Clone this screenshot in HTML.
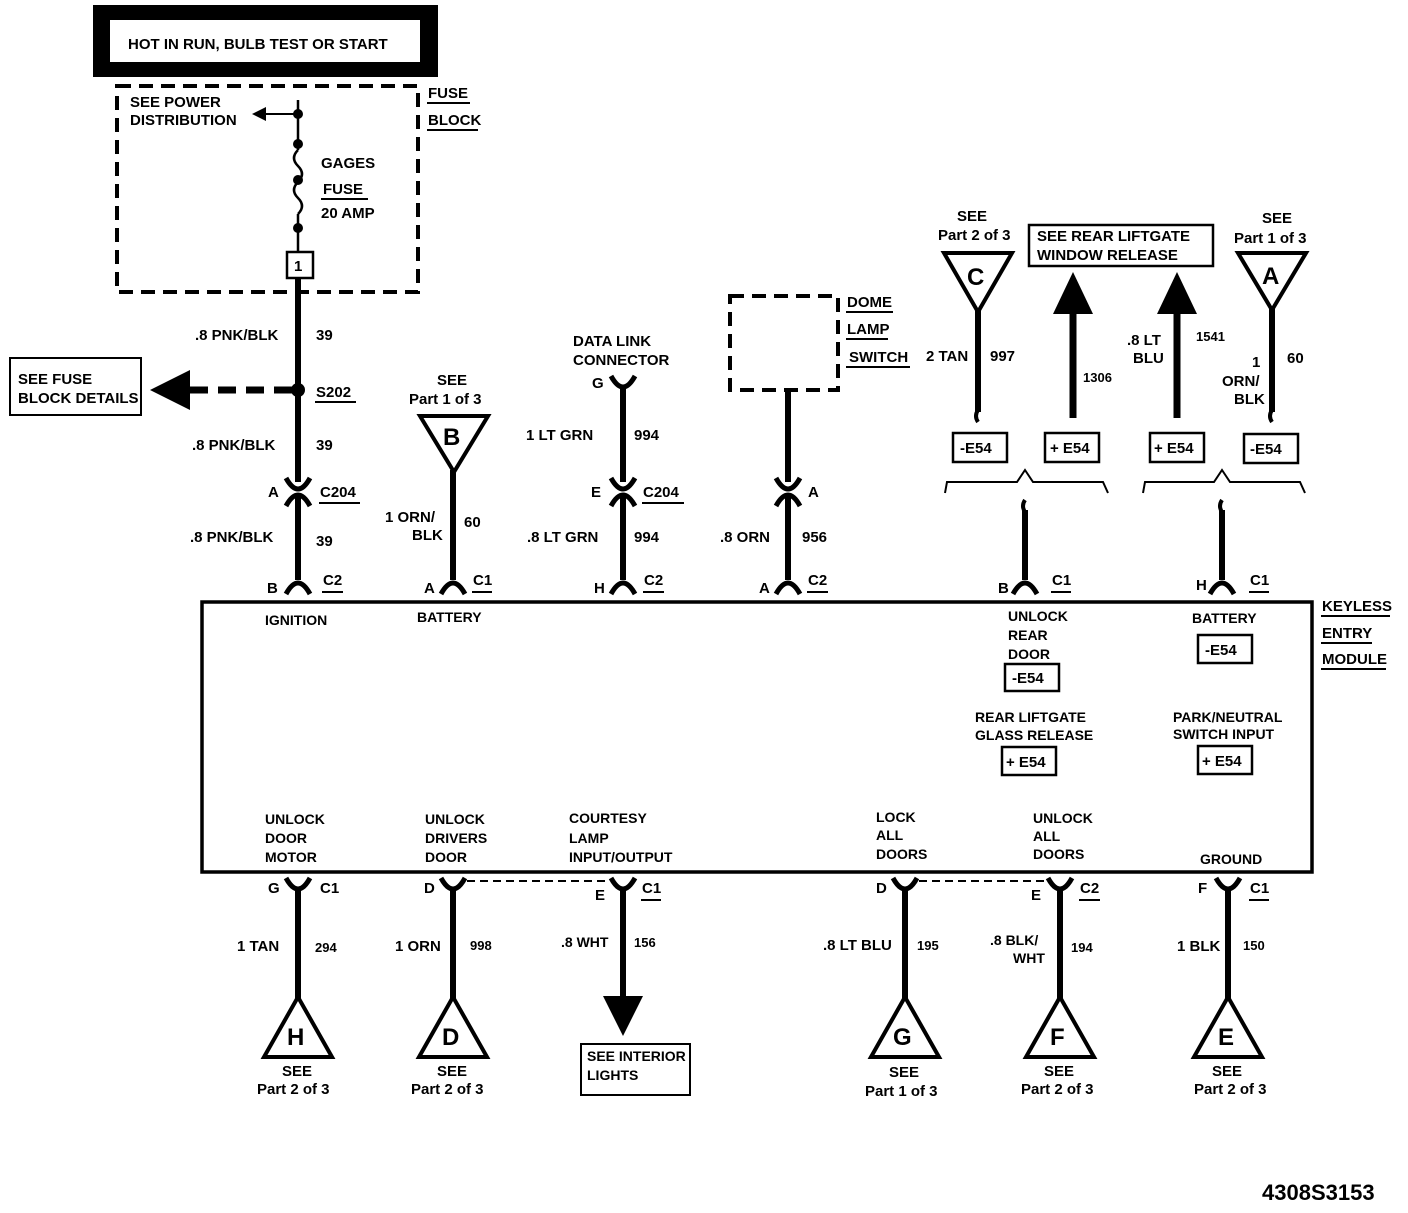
<!DOCTYPE html>
<html><head><style>
html,body{margin:0;padding:0;background:#fff;}
svg text{font-family:"Liberation Sans",Arial,sans-serif;font-weight:bold;font-size:15px;fill:#000;}
</style></head><body>
<svg width="1408" height="1208" viewBox="0 0 1408 1208" xmlns="http://www.w3.org/2000/svg">
<defs>
<g id="capN"><path d="M-12,8 Q0,-14 12,8" fill="none" stroke="#000" stroke-width="5"/></g>
<g id="cupU"><path d="M-12,-8 Q0,14 12,-8" fill="none" stroke="#000" stroke-width="5"/></g>
</defs>
<rect x="93" y="5" width="345" height="72" fill="#000"/>
<rect x="110" y="20" width="310" height="42" fill="#fff"/>
<text x="128" y="49">HOT IN RUN, BULB TEST OR START</text>
<rect x="117" y="86" width="301" height="206" fill="none" stroke="#000" stroke-width="4" stroke-dasharray="14,8"/>
<text x="130" y="107">SEE POWER</text><text x="130" y="125">DISTRIBUTION</text>
<line x1="298" y1="114" x2="262" y2="114" stroke="#000" stroke-width="2"/>
<polygon points="252,114 266,107 266,121"/>
<line x1="298" y1="100" x2="298" y2="150" stroke="#000" stroke-width="2.5"/>
<path d="M298,150 q-8,8 0,16 q8,8 0,16 q-8,8 0,16 q8,8 0,16" fill="none" stroke="#000" stroke-width="2.5"/>
<line x1="298" y1="214" x2="298" y2="252" stroke="#000" stroke-width="2.5"/>
<circle cx="298" cy="114" r="5"/><circle cx="298" cy="144" r="5"/><circle cx="298" cy="180" r="5"/><circle cx="298" cy="228" r="5"/>
<text x="321" y="168">GAGES</text>
<text x="323" y="194">FUSE</text><line x1="321" y1="199" x2="368" y2="199" stroke="#000" stroke-width="2"/>
<text x="321" y="218">20 AMP</text>
<rect x="287" y="252" width="26" height="26" fill="#fff" stroke="#000" stroke-width="2.5"/>
<text x="294" y="271">1</text>
<text x="428" y="98">FUSE</text><line x1="427" y1="103" x2="470" y2="103" stroke="#000" stroke-width="2"/>
<text x="428" y="125">BLOCK</text><line x1="427" y1="130" x2="478" y2="130" stroke="#000" stroke-width="2"/>
<line x1="298" y1="278" x2="298" y2="482" stroke="#000" stroke-width="6"/>
<line x1="298" y1="496" x2="298" y2="580" stroke="#000" stroke-width="6"/>
<text x="195" y="340">.8  PNK/BLK</text><text x="316" y="340">39</text>
<circle cx="298" cy="390" r="7"/>
<line x1="292" y1="390" x2="185" y2="390" stroke="#000" stroke-width="7" stroke-dasharray="18,10"/>
<polygon points="150,390 190,370 190,410"/>
<rect x="10" y="358" width="131" height="57" fill="#fff" stroke="#000" stroke-width="2"/>
<text x="18" y="384">SEE FUSE</text><text x="18" y="403">BLOCK DETAILS</text>
<text x="316" y="397">S202</text><line x1="315" y1="402" x2="356" y2="402" stroke="#000" stroke-width="2"/>
<text x="192" y="450">.8  PNK/BLK</text><text x="316" y="450">39</text>
<use href="#cupU" x="298" y="486"/><use href="#capN" x="298" y="498"/>
<text x="268" y="497">A</text><text x="320" y="497">C204</text><line x1="319" y1="503" x2="360" y2="503" stroke="#000" stroke-width="2"/>
<text x="190" y="542">.8  PNK/BLK</text><text x="316" y="546">39</text>
<use href="#capN" x="298" y="586"/>
<text x="267" y="593">B</text><text x="323" y="585">C2</text><line x1="322" y1="592" x2="343" y2="592" stroke="#000" stroke-width="2"/>
<text x="437" y="385">SEE</text><text x="409" y="404">Part 1 of 3</text>
<polygon points="420,416 488,416 454,472" fill="#fff" stroke="#000" stroke-width="4"/>
<text x="443" y="445" style="font-size:24px">B</text>
<line x1="453" y1="470" x2="453" y2="580" stroke="#000" stroke-width="6"/>
<text x="385" y="522">1  ORN/</text><text x="412" y="540">BLK</text><text x="464" y="527">60</text>
<use href="#capN" x="453" y="586"/>
<text x="424" y="593">A</text><text x="473" y="585">C1</text><line x1="472" y1="592" x2="492" y2="592" stroke="#000" stroke-width="2"/>
<text x="573" y="346">DATA LINK</text><text x="573" y="365">CONNECTOR</text>
<use href="#cupU" x="623" y="384"/>
<text x="592" y="388">G</text>
<line x1="623" y1="388" x2="623" y2="482" stroke="#000" stroke-width="6"/>
<line x1="623" y1="496" x2="623" y2="580" stroke="#000" stroke-width="6"/>
<text x="526" y="440">1  LT  GRN</text><text x="634" y="440">994</text>
<use href="#cupU" x="623" y="486"/><use href="#capN" x="623" y="498"/>
<text x="591" y="497">E</text><text x="643" y="497">C204</text><line x1="642" y1="503" x2="684" y2="503" stroke="#000" stroke-width="2"/>
<text x="527" y="542">.8  LT  GRN</text><text x="634" y="542">994</text>
<use href="#capN" x="623" y="586"/>
<text x="594" y="593">H</text><text x="644" y="585">C2</text><line x1="643" y1="592" x2="664" y2="592" stroke="#000" stroke-width="2"/>
<rect x="730" y="296" width="108" height="94" fill="none" stroke="#000" stroke-width="4" stroke-dasharray="14,8"/>
<text x="847" y="307">DOME</text><line x1="846" y1="312" x2="893" y2="312" stroke="#000" stroke-width="2"/>
<text x="847" y="334">LAMP</text><line x1="846" y1="339" x2="888" y2="339" stroke="#000" stroke-width="2"/>
<text x="849" y="362">SWITCH</text><line x1="846" y1="367" x2="910" y2="367" stroke="#000" stroke-width="2"/>
<line x1="788" y1="390" x2="788" y2="482" stroke="#000" stroke-width="6"/>
<line x1="788" y1="496" x2="788" y2="580" stroke="#000" stroke-width="6"/>
<use href="#cupU" x="788" y="486"/><use href="#capN" x="788" y="498"/>
<text x="808" y="497">A</text>
<text x="720" y="542">.8  ORN</text><text x="802" y="542">956</text>
<use href="#capN" x="788" y="586"/>
<text x="759" y="593">A</text><text x="808" y="585">C2</text><line x1="807" y1="592" x2="828" y2="592" stroke="#000" stroke-width="2"/>
<text x="957" y="221">SEE</text><text x="938" y="240">Part 2 of 3</text>
<polygon points="944,253 1012,253 978,312" fill="#fff" stroke="#000" stroke-width="4"/>
<text x="967" y="285" style="font-size:24px">C</text>
<line x1="978" y1="310" x2="978" y2="412" stroke="#000" stroke-width="6"/>
<path d="M978,410 q-4,6 0,12" fill="none" stroke="#000" stroke-width="4"/>
<text x="926" y="361">2  TAN</text><text x="990" y="361">997</text>
<rect x="953" y="433" width="54" height="29" fill="#fff" stroke="#000" stroke-width="2.5"/><text x="960" y="453">-E54</text>
<rect x="1029" y="225" width="184" height="41" fill="#fff" stroke="#000" stroke-width="2.5"/>
<text x="1037" y="241">SEE REAR LIFTGATE</text><text x="1037" y="260">WINDOW  RELEASE</text>
<line x1="1073" y1="312" x2="1073" y2="418" stroke="#000" stroke-width="7"/>
<polygon points="1073,272 1053,314 1093,314"/>
<text x="1083" y="382" style="font-size:13px">1306</text>
<rect x="1045" y="433" width="54" height="29" fill="#fff" stroke="#000" stroke-width="2.5"/><text x="1050" y="453">+ E54</text>
<line x1="1177" y1="312" x2="1177" y2="418" stroke="#000" stroke-width="7"/>
<polygon points="1177,272 1157,314 1197,314"/>
<text x="1127" y="345">.8  LT</text><text x="1133" y="363">BLU</text><text x="1196" y="341" style="font-size:13px">1541</text>
<rect x="1150" y="433" width="54" height="29" fill="#fff" stroke="#000" stroke-width="2.5"/><text x="1154" y="453">+ E54</text>
<text x="1262" y="223">SEE</text><text x="1234" y="243">Part 1 of 3</text>
<polygon points="1238,253 1306,253 1272,310" fill="#fff" stroke="#000" stroke-width="4"/>
<text x="1262" y="284" style="font-size:24px">A</text>
<line x1="1272" y1="308" x2="1272" y2="412" stroke="#000" stroke-width="6"/>
<path d="M1272,410 q-4,6 0,12" fill="none" stroke="#000" stroke-width="4"/>
<text x="1252" y="367">1</text><text x="1222" y="386">ORN/</text><text x="1234" y="404">BLK</text><text x="1287" y="363">60</text>
<rect x="1244" y="434" width="54" height="29" fill="#fff" stroke="#000" stroke-width="2.5"/><text x="1250" y="454">-E54</text>
<path d="M945,493 L947,482 L1017,482 L1025,470 L1033,482 L1103,482 L1108,493" fill="none" stroke="#000" stroke-width="2"/>
<path d="M1143,493 L1145,482 L1214,482 L1222,470 L1230,482 L1300,482 L1305,493" fill="none" stroke="#000" stroke-width="2"/>
<path d="M1025,500 q-4,6 0,12" fill="none" stroke="#000" stroke-width="4"/>
<line x1="1025" y1="510" x2="1025" y2="580" stroke="#000" stroke-width="6"/>
<path d="M1222,500 q-4,6 0,12" fill="none" stroke="#000" stroke-width="4"/>
<line x1="1222" y1="510" x2="1222" y2="580" stroke="#000" stroke-width="6"/>
<use href="#capN" x="1025" y="586"/><use href="#capN" x="1222" y="586"/>
<text x="998" y="593">B</text><text x="1052" y="585">C1</text><line x1="1051" y1="592" x2="1071" y2="592" stroke="#000" stroke-width="2"/>
<text x="1196" y="590">H</text><text x="1250" y="585">C1</text><line x1="1249" y1="592" x2="1269" y2="592" stroke="#000" stroke-width="2"/>
<rect x="202" y="602" width="1110" height="270" fill="none" stroke="#000" stroke-width="3.5"/>
<text x="1322" y="611">KEYLESS</text><line x1="1321" y1="616" x2="1390" y2="616" stroke="#000" stroke-width="2"/>
<text x="1322" y="638">ENTRY</text><line x1="1321" y1="643" x2="1372" y2="643" stroke="#000" stroke-width="2"/>
<text x="1322" y="664">MODULE</text><line x1="1321" y1="669" x2="1386" y2="669" stroke="#000" stroke-width="2"/>
<text x="265" y="625" style="font-size:14px">IGNITION</text>
<text x="417" y="622" style="font-size:14px">BATTERY</text>
<text x="1008" y="621" style="font-size:14px">UNLOCK</text><text x="1008" y="640" style="font-size:14px">REAR</text><text x="1008" y="659" style="font-size:14px">DOOR</text>
<rect x="1005" y="664" width="54" height="27" fill="#fff" stroke="#000" stroke-width="2.5"/><text x="1012" y="683">-E54</text>
<text x="1192" y="623" style="font-size:14px">BATTERY</text>
<rect x="1198" y="635" width="54" height="28" fill="#fff" stroke="#000" stroke-width="2.5"/><text x="1205" y="655">-E54</text>
<text x="975" y="722" style="font-size:14px">REAR LIFTGATE</text><text x="975" y="740" style="font-size:14px">GLASS RELEASE</text>
<rect x="1002" y="747" width="54" height="28" fill="#fff" stroke="#000" stroke-width="2.5"/><text x="1006" y="767">+ E54</text>
<text x="1173" y="722" style="font-size:14px">PARK/NEUTRAL</text><text x="1173" y="739" style="font-size:14px">SWITCH INPUT</text>
<rect x="1198" y="746" width="54" height="28" fill="#fff" stroke="#000" stroke-width="2.5"/><text x="1202" y="766">+ E54</text>
<text x="265" y="824" style="font-size:14px">UNLOCK</text><text x="265" y="843" style="font-size:14px">DOOR</text><text x="265" y="862" style="font-size:14px">MOTOR</text>
<text x="425" y="824" style="font-size:14px">UNLOCK</text><text x="425" y="843" style="font-size:14px">DRIVERS</text><text x="425" y="862" style="font-size:14px">DOOR</text>
<text x="569" y="823" style="font-size:14px">COURTESY</text><text x="569" y="843" style="font-size:14px">LAMP</text><text x="569" y="862" style="font-size:14px">INPUT/OUTPUT</text>
<text x="876" y="822" style="font-size:14px">LOCK</text><text x="876" y="840" style="font-size:14px">ALL</text><text x="876" y="859" style="font-size:14px">DOORS</text>
<text x="1033" y="823" style="font-size:14px">UNLOCK</text><text x="1033" y="841" style="font-size:14px">ALL</text><text x="1033" y="859" style="font-size:14px">DOORS</text>
<text x="1200" y="864" style="font-size:14px">GROUND</text>
<line x1="467" y1="881" x2="610" y2="881" stroke="#000" stroke-width="2" stroke-dasharray="8,5"/>
<line x1="919" y1="881" x2="1046" y2="881" stroke="#000" stroke-width="2" stroke-dasharray="8,5"/>
<use href="#cupU" x="298" y="886"/><use href="#cupU" x="453" y="886"/><use href="#cupU" x="623" y="886"/>
<use href="#cupU" x="905" y="886"/><use href="#cupU" x="1060" y="886"/><use href="#cupU" x="1228" y="886"/>
<line x1="298" y1="890" x2="298" y2="1000" stroke="#000" stroke-width="6"/>
<line x1="453" y1="890" x2="453" y2="1000" stroke="#000" stroke-width="6"/>
<line x1="623" y1="890" x2="623" y2="1000" stroke="#000" stroke-width="6"/>
<line x1="905" y1="890" x2="905" y2="1000" stroke="#000" stroke-width="6"/>
<line x1="1060" y1="890" x2="1060" y2="1000" stroke="#000" stroke-width="6"/>
<line x1="1228" y1="890" x2="1228" y2="1000" stroke="#000" stroke-width="6"/>
<text x="268" y="893">G</text><text x="320" y="893">C1</text>
<text x="424" y="893">D</text>
<text x="595" y="900">E</text><text x="642" y="893">C1</text><line x1="641" y1="900" x2="661" y2="900" stroke="#000" stroke-width="2"/>
<text x="876" y="893">D</text>
<text x="1031" y="900">E</text><text x="1080" y="893">C2</text><line x1="1079" y1="900" x2="1100" y2="900" stroke="#000" stroke-width="2"/>
<text x="1198" y="893">F</text><text x="1250" y="893">C1</text><line x1="1249" y1="900" x2="1269" y2="900" stroke="#000" stroke-width="2"/>
<text x="237" y="951">1  TAN</text><text x="315" y="952" style="font-size:13px">294</text>
<text x="395" y="951">1  ORN</text><text x="470" y="950" style="font-size:13px">998</text>
<text x="561" y="947" style="font-size:14px">.8  WHT</text><text x="634" y="947" style="font-size:13px">156</text>
<text x="823" y="950">.8 LT BLU</text><text x="917" y="950" style="font-size:13px">195</text>
<text x="990" y="945" style="font-size:14px">.8 BLK/</text><text x="1013" y="963" style="font-size:14px">WHT</text><text x="1071" y="952" style="font-size:13px">194</text>
<text x="1177" y="951">1  BLK</text><text x="1243" y="950" style="font-size:13px">150</text>
<polygon points="298,997 264,1057 332,1057" fill="#fff" stroke="#000" stroke-width="4"/><text x="287" y="1045" style="font-size:24px">H</text>
<polygon points="453,997 419,1057 487,1057" fill="#fff" stroke="#000" stroke-width="4"/><text x="442" y="1045" style="font-size:24px">D</text>
<polygon points="905,997 871,1057 939,1057" fill="#fff" stroke="#000" stroke-width="4"/><text x="893" y="1045" style="font-size:24px">G</text>
<polygon points="1060,997 1026,1057 1094,1057" fill="#fff" stroke="#000" stroke-width="4"/><text x="1050" y="1045" style="font-size:24px">F</text>
<polygon points="1228,997 1194,1057 1262,1057" fill="#fff" stroke="#000" stroke-width="4"/><text x="1218" y="1045" style="font-size:24px">E</text>
<text x="282" y="1076">SEE</text><text x="257" y="1094">Part 2 of 3</text>
<text x="437" y="1076">SEE</text><text x="411" y="1094">Part 2 of 3</text>
<text x="889" y="1077">SEE</text><text x="865" y="1096">Part 1 of 3</text>
<text x="1044" y="1076">SEE</text><text x="1021" y="1094">Part 2 of 3</text>
<text x="1212" y="1076">SEE</text><text x="1194" y="1094">Part 2 of 3</text>
<polygon points="623,1036 603,996 643,996"/>
<rect x="581" y="1044" width="109" height="51" fill="#fff" stroke="#000" stroke-width="2"/>
<text x="587" y="1061" style="font-size:14px">SEE INTERIOR</text><text x="587" y="1080" style="font-size:14px">LIGHTS</text>
<text x="1262" y="1200" style="font-size:22px">4308S3153</text>
</svg>
</body></html>
